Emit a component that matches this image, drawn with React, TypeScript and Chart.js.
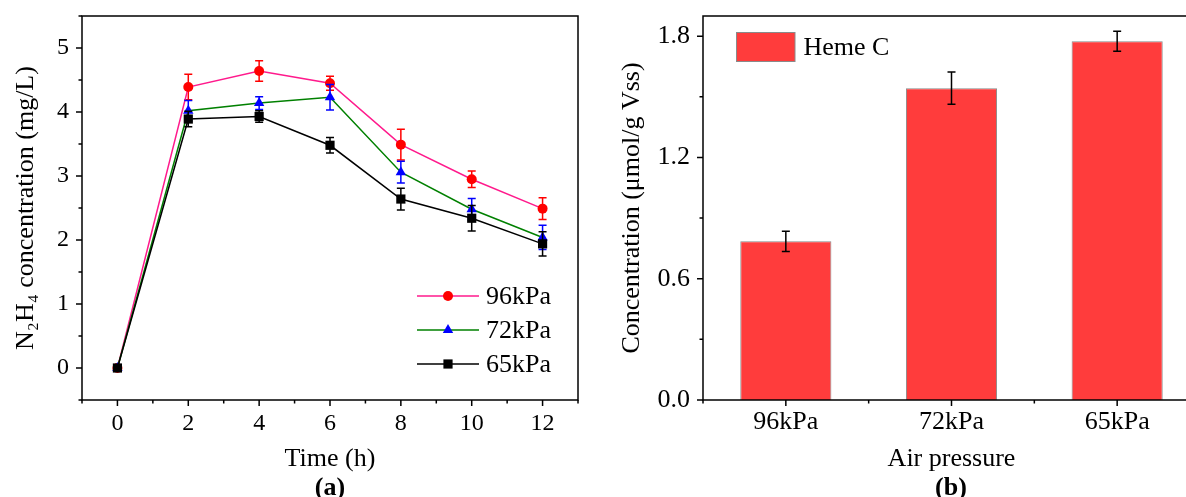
import React, { useEffect, useRef } from 'react';
import { Chart, registerables } from 'chart.js';
Chart.register(...registerables);

// ---------- data: panel (a) ----------
const times = [0, 2, 4, 6, 8, 10, 12];
const seriesLabels = ['96kPa', '72kPa', '65kPa'];
const n2h4_96 = [0, 4.39, 4.64, 4.45, 3.49, 2.95, 2.49];
const n2h4_96_err = [0, 0.2, 0.16, 0.11, 0.24, 0.13, 0.17];
const n2h4_72 = [0, 4.02, 4.14, 4.23, 3.06, 2.48, 2.04];
const n2h4_72_err = [0, 0.16, 0.1, 0.2, 0.17, 0.17, 0.19];
const n2h4_65 = [0, 3.89, 3.93, 3.48, 2.64, 2.34, 1.94];
const n2h4_65_err = [0, 0.12, 0.09, 0.12, 0.17, 0.2, 0.19];
const xTickLabels = ['0', '2', '4', '6', '8', '10', '12'];
const yTickLabelsA = ['0', '1', '2', '3', '4', '5'];

// ---------- data: panel (b) ----------
const pressures = ['96kPa', '72kPa', '65kPa'];
const hemeC = [0.785, 1.543, 1.775];
const hemeC_err = [0.05, 0.08, 0.05];
const hemeLabel = 'Heme C';
const yTickLabelsB = ['0.0', '0.6', '1.2', '1.8'];

const FONT = "'Liberation Serif', 'Times New Roman', serif";
const BAR_RED = '#ff3c3c';

Chart.defaults.font.family = FONT;
Chart.defaults.color = '#000';

function drawMarker(ctx: CanvasRenderingContext2D, style: string, x: number, y: number, r: number, color: string) {
  ctx.save();
  ctx.fillStyle = color;
  ctx.beginPath();
  if (style === 'circle') {
    ctx.arc(x, y, r, 0, Math.PI * 2);
  } else if (style === 'triangle') {
    const h = r * 1.5;
    const s = r * Math.sqrt(3);
    ctx.moveTo(x, y - r);
    ctx.lineTo(x + s / 2, y - r + h);
    ctx.lineTo(x - s / 2, y - r + h);
    ctx.closePath();
  } else {
    const s = r * Math.SQRT1_2;
    ctx.rect(x - s, y - s, 2 * s, 2 * s);
  }
  ctx.fill();
  ctx.restore();
}

function drawErrors(chart: any, index: number, meta: any) {
  const ds = chart.data.datasets[index];
  const errs = ds.errors;
  if (!errs) return;
  const yScale = chart.scales[meta.yAxisID];
  const ctx = chart.ctx;
  ctx.save();
  ctx.strokeStyle = ds.errorColor || '#000';
  ctx.lineWidth = 1.5;
  meta.data.forEach((el: any, i: number) => {
    const e = errs[i];
    if (!e) return;
    const raw = ds.data[i];
    const v = typeof raw === 'number' ? raw : raw.y;
    const x = el.x;
    const yt = yScale.getPixelForValue(v + e);
    const yb = yScale.getPixelForValue(v - e);
    const cap = 4;
    ctx.beginPath();
    ctx.moveTo(x, yt); ctx.lineTo(x, yb);
    ctx.moveTo(x - cap, yt); ctx.lineTo(x + cap, yt);
    ctx.moveTo(x - cap, yb); ctx.lineTo(x + cap, yb);
    ctx.stroke();
  });
  ctx.restore();
}

const errorBarPlugin = {
  id: 'errorBars',
  beforeDatasetDraw(chart: any, args: any) {
    const ds = chart.data.datasets[args.index];
    if (!ds.errorOnTop) drawErrors(chart, args.index, args.meta);
  },
  afterDatasetDraw(chart: any, args: any) {
    const ds = chart.data.datasets[args.index];
    if (ds.errorOnTop) drawErrors(chart, args.index, args.meta);
  },
};

const framePlugin = {
  id: 'frame',
  afterDraw(chart: any) {
    const { ctx, chartArea: a } = chart;
    ctx.save();
    ctx.strokeStyle = '#000';
    ctx.lineWidth = 1.5;
    ctx.strokeRect(a.left, a.top, a.right - a.left, a.bottom - a.top);
    const ys = chart.scales.y;
    ctx.beginPath();
    ys.ticks.forEach((t: any) => {
      const p = ys.getPixelForValue(t.value);
      const len = t.label !== '' ? 6 : 3.5;
      ctx.moveTo(a.left, p);
      ctx.lineTo(a.left - len, p);
    });
    const xs = chart.scales.x;
    if (xs.type === 'category') {
      const n = xs.ticks.length;
      const half = (xs.getPixelForValue(1) - xs.getPixelForValue(0)) / 2;
      for (let i = 0; i < n; i++) {
        const p = xs.getPixelForValue(i);
        ctx.moveTo(p, a.bottom); ctx.lineTo(p, a.bottom + 6);
        ctx.moveTo(p + half, a.bottom); ctx.lineTo(p + half, a.bottom + 3.5);
      }
      ctx.moveTo(a.left, a.bottom); ctx.lineTo(a.left, a.bottom + 3.5);
    } else {
      xs.ticks.forEach((t: any) => {
        const p = xs.getPixelForValue(t.value);
        const len = t.label !== '' ? 6 : 3.5;
        ctx.moveTo(p, a.bottom);
        ctx.lineTo(p, a.bottom + len);
      });
    }
    ctx.stroke();
    ctx.restore();
  },
};

function panelLabelPlugin(text: string, cx: number) {
  return {
    id: 'panelLabel',
    afterDraw(chart: any) {
      const ctx = chart.ctx;
      ctx.save();
      ctx.font = `bold 26px ${FONT}`;
      ctx.fillStyle = '#000';
      ctx.textAlign = 'center';
      ctx.textBaseline = 'alphabetic';
      ctx.fillText(text, cx, 495);
      ctx.restore();
    },
  };
}

const lineLegendPlugin = {
  id: 'lineLegend',
  afterDraw(chart: any) {
    const ctx = chart.ctx;
    const rows = [296, 330, 364];
    chart.data.datasets.forEach((ds: any, i: number) => {
      const y = rows[i];
      ctx.save();
      ctx.strokeStyle = ds.borderColor;
      ctx.lineWidth = 1.5;
      ctx.beginPath();
      ctx.moveTo(417, y); ctx.lineTo(479, y);
      ctx.stroke();
      drawMarker(ctx, ds.pointStyle, 448, y, ds.pointRadius, ds.pointBackgroundColor);
      ctx.font = `26px ${FONT}`;
      ctx.fillStyle = '#000';
      ctx.textAlign = 'left';
      ctx.textBaseline = 'middle';
      ctx.fillText(ds.label, 486, y + 1);
      ctx.restore();
    });
  },
};

const boxLegendPlugin = {
  id: 'boxLegend',
  afterDraw(chart: any) {
    const ctx = chart.ctx;
    const ds = chart.data.datasets[0];
    ctx.save();
    ctx.fillStyle = ds.backgroundColor;
    ctx.fillRect(136.5, 32.5, 58.5, 29);
    ctx.strokeStyle = ds.borderColor;
    ctx.lineWidth = 1;
    ctx.strokeRect(136.5, 32.5, 58.5, 29);
    ctx.font = `26px ${FONT}`;
    ctx.fillStyle = '#000';
    ctx.textAlign = 'left';
    ctx.textBaseline = 'middle';
    ctx.fillText(ds.label, 203.5, 48);
    ctx.restore();
  },
};

const near = (a: number, b: number) => Math.abs(a - b) < 1e-6;

export default function App() {
  const ref1 = useRef<HTMLCanvasElement>(null);
  const ref2 = useRef<HTMLCanvasElement>(null);

  useEffect(() => {
    const toXY = (vals: number[]) => times.map((t, i) => ({ x: t, y: vals[i] }));
    const fitY = (w: number) => (s: any) => { s.width = w; s.paddingTop = 0; s.paddingBottom = 0; };
    const fitX = (h: number) => (s: any) => { s.height = h; s.paddingLeft = 0; s.paddingRight = 0; };
    const c1 = new Chart(ref1.current as HTMLCanvasElement, {
      type: 'line',
      data: {
        datasets: [
          {
            label: seriesLabels[0], data: toXY(n2h4_96), errors: n2h4_96_err, errorColor: '#ff0000',
            borderColor: '#ff1a8c', borderWidth: 1.5, pointStyle: 'circle', pointRadius: 5,
            pointBackgroundColor: '#ff0000', pointBorderColor: '#ff0000', pointBorderWidth: 0, order: 2,
          },
          {
            label: seriesLabels[1], data: toXY(n2h4_72), errors: n2h4_72_err, errorColor: '#0000ff',
            borderColor: '#008000', borderWidth: 1.5, pointStyle: 'triangle', pointRadius: 6,
            pointBackgroundColor: '#0000ff', pointBorderColor: '#0000ff', pointBorderWidth: 0, order: 1,
          },
          {
            label: seriesLabels[2], data: toXY(n2h4_65), errors: n2h4_65_err, errorColor: '#000000',
            borderColor: '#000000', borderWidth: 1.5, pointStyle: 'rect', pointRadius: 6.5,
            pointBackgroundColor: '#000000', pointBorderColor: '#000000', pointBorderWidth: 0, order: 0,
          },
        ] as any,
      },
      options: {
        animation: false,
        responsive: false,
        devicePixelRatio: 1,
        layout: { padding: { top: 16, right: 22, bottom: 0, left: 0 } },
        plugins: { legend: { display: false }, tooltip: { enabled: false } },
        scales: {
          x: {
            type: 'linear', min: -1, max: 13,
            grid: { display: false, drawTicks: false }, border: { display: false },
            ticks: {
              stepSize: 1, autoSkip: false, maxRotation: 0, padding: 9, color: '#000',
              font: { size: 24 },
              callback: (v: any) => {
                const s = String(Number(v));
                return xTickLabels.includes(s) ? s : '';
              },
            },
            title: { display: true, text: 'Time (h)', color: '#000', font: { size: 26 }, padding: { top: 0, bottom: 22 } },
            afterFit: fitX(97),
          },
          y: {
            min: -0.5, max: 5.5,
            grid: { display: false, drawTicks: false }, border: { display: false },
            ticks: {
              stepSize: 0.5, autoSkip: false, padding: 13, color: '#000',
              font: { size: 24 },
              callback: (v: any) => {
                const n = Number(v);
                const s = String(Math.round(n));
                return near(n, Math.round(n)) && yTickLabelsA.includes(s) ? s : '';
              },
            },
            title: { display: true, text: 'N₂H₄ concentration (mg/L)', color: '#000', font: { size: 26 }, padding: { top: 11, bottom: 0 } },
            afterFit: fitY(82),
          },
        },
      } as any,
      plugins: [errorBarPlugin, framePlugin, lineLegendPlugin, panelLabelPlugin('(a)', 330)],
    });

    const c2 = new Chart(ref2.current as HTMLCanvasElement, {
      type: 'bar',
      data: {
        labels: pressures,
        datasets: [
          {
            label: hemeLabel, data: hemeC, errors: hemeC_err, errorColor: '#000000', errorOnTop: true,
            backgroundColor: BAR_RED, borderColor: '#8a8a8a', borderWidth: 1,
            barPercentage: 0.55, categoryPercentage: 1,
          },
        ] as any,
      },
      options: {
        animation: false,
        responsive: false,
        devicePixelRatio: 1,
        layout: { padding: { top: 16, right: 20, bottom: 0, left: 0 } },
        plugins: { legend: { display: false }, tooltip: { enabled: false } },
        scales: {
          x: {
            type: 'category', offset: true,
            grid: { display: false, drawTicks: false }, border: { display: false },
            ticks: { autoSkip: false, maxRotation: 0, padding: 7, color: '#000', font: { size: 26 } },
            title: { display: true, text: 'Air pressure', color: '#000', font: { size: 26 }, padding: { top: 0, bottom: 22 } },
            afterFit: fitX(97),
          },
          y: {
            min: 0, max: 1.9,
            grid: { display: false, drawTicks: false }, border: { display: false },
            ticks: {
              stepSize: 0.3, includeBounds: false, autoSkip: false, padding: 13, color: '#000',
              font: { size: 26 },
              callback: (v: any) => {
                const s = Number(v).toFixed(1);
                return yTickLabelsB.includes(s) ? s : '';
              },
            },
            title: { display: true, text: 'Concentration (μmol/g Vss)', color: '#000', font: { size: 26 }, padding: { top: 17, bottom: 0 } },
            afterFit: fitY(103),
          },
        },
      } as any,
      plugins: [errorBarPlugin, framePlugin, boxLegendPlugin, panelLabelPlugin('(b)', 351)],
    });

    return () => { c1.destroy(); c2.destroy(); };
  }, []);

  return (
    <div style={{ position: 'fixed', left: 0, top: 0, width: 1186, height: 497, overflow: 'hidden', background: '#fff' }}>
      <canvas ref={ref1} width={600} height={497} style={{ position: 'absolute', left: 0, top: 0 }} />
      <canvas ref={ref2} width={620} height={497} style={{ position: 'absolute', left: 600, top: 0 }} />
    </div>
  );
}
